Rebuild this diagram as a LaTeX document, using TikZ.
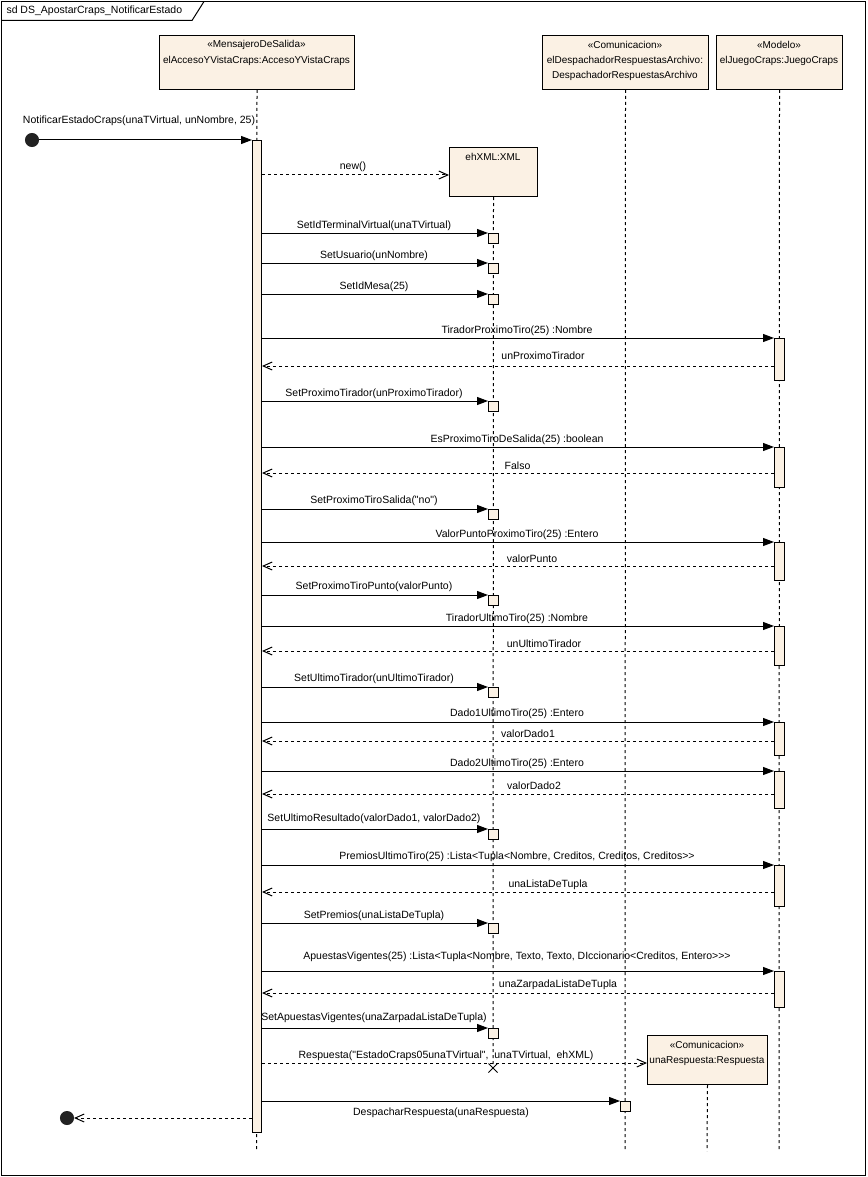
\documentclass[tikz,border=0pt]{standalone}
\usepackage{fontspec}
\setmainfont{Liberation Sans}[Ligatures=TeXOff]
\usetikzlibrary{arrows.meta}
\definecolor{boxfill}{RGB}{251,241,228}
\definecolor{dotcol}{RGB}{34,34,34}
\newcommand{\setcall}[4]{%
  \node[exec, anchor=north west] (#1) at (488,#2) {};
  \draw[sync] (Aact.east |- #1.north west) -- (#1.north west);
  \node[lbl] (#1l) at (374,#4) {#3};
}
\newcommand{\query}[9]{%
  \node[exec, anchor=north west, minimum height={#3-#2}] (#1) at (774,#2) {};
  \coordinate (#1r) at (774,#4);
  \draw[sync] (Aact.east |- #1.north west) -- (#1.north west);
  \draw[ret] (#1r) -- (Aact.east |- #1r);
  \node[lbl] (#1c) at (517,#6) {#5};
  \node[lbl] (#1t) at (#8,#9) {#7};
}
\begin{document}
\begin{tikzpicture}[x=1pt,y=-1pt,line width=1pt,font=\fontsize{10.5}{12.6}\selectfont,
  head/.style={draw,fill=boxfill,inner sep=0pt,anchor=north west},
  htxt/.style={inner sep=0pt,font=\fontsize{10}{12}\selectfont},
  exec/.style={draw,fill=boxfill,inner sep=0pt,minimum width=10pt,minimum height=10pt},
  lbl/.style={inner sep=0pt},
  life/.style={dash pattern=on 3pt off 3pt},
  sync/.style={-{Triangle[length=11pt,width=8pt]}},
  ret/.style={dash pattern=on 3pt off 3pt,-{Straight Barb[length=9pt,width=8pt]}},
  dot/.style={circle,fill=dotcol,draw=dotcol,minimum size=13pt,inner sep=0pt}]
\useasboundingbox (0,0) rectangle (867,1177);
% frame
\draw (1.5,1.5) rectangle (865.5,1175.5);
\draw (1.5,20.5) -- (192,20.5) -- (204,1.5);
\node[lbl,anchor=west] (title) at (6,11) {sd DS\_ApostarCraps\_NotificarEstado};
% heads
\node[head,minimum width=195pt,minimum height=54pt] (Ahead) at (159,35) {};
\node[htxt] (Ast) at (256.5,44.5) {«MensajeroDeSalida»};
\node[htxt] (Anm) at (256.5,61) {elAccesoYVistaCraps:AccesoYVistaCraps};
\node[head,minimum width=166pt,minimum height=54pt] (Dhead) at (542,35) {};
\node[htxt] (Dst) at (625,44.5) {«Comunicacion»};
\node[htxt] (Dnm1) at (625,60.5) {elDespachadorRespuestasArchivo:};
\node[htxt] (Dnm2) at (625,75.5) {DespachadorRespuestasArchivo};
\node[head,minimum width=126pt,minimum height=54pt] (Mhead) at (716,35) {};
\node[htxt] (Mst) at (779,44.5) {«Modelo»};
\node[htxt] (Mnm) at (779,61) {elJuegoCraps:JuegoCraps};
\node[head,minimum width=88pt,minimum height=49pt] (Xhead) at (449,147) {};
\node[htxt] (Xnm) at (493,157) {ehXML:XML};
\node[head,minimum width=120pt,minimum height=49pt] (Rhead) at (647,1035) {};
\node[htxt] (Rst) at (707,1045) {«Comunicacion»};
\node[htxt] (Rnm) at (707,1061) {unaRespuesta:Respuesta};
% lifelines
\coordinate (Aend) at (256.5,1150);
\coordinate (Dend) at (625,1150);
\coordinate (Mend) at (779,1150);
\coordinate (Rend) at (707,1151);
\coordinate (xdel) at (493,1068);
\draw[life] (Ahead.south) -- (Aend);
\draw[life] (Dhead.south) -- (Dend);
\draw[life] (Mhead.south) -- (Mend);
\draw[life] (Rhead.south) -- (Rend);
\draw[life] (Xhead.south) -- (xdel);
\draw (xdel) ++(-4.5,-4.5) -- ++(9,9) (xdel) ++(-4.5,4.5) -- ++(9,-9);
% activation of A
\node[exec,anchor=north west,minimum width=9pt,minimum height=992pt] (Aact) at (252,140) {};
% found message
\node[dot] (start) at (32,140) {};
\draw[sync] (start) -- (Aact.north west);
\node[lbl,anchor=west] (startl) at (22.5,120.5) {NotificarEstadoCraps(unaTVirtual, unNombre, 25)};
% new()
\coordinate (newpt) at (449,175);
\draw[ret] (Aact.east |- newpt) -- (newpt);
\node[lbl] (newl) at (353,167) {new()};
% set calls
\setcall{s1}{233}{SetIdTerminalVirtual(unaTVirtual)}{226}
\setcall{s2}{263}{SetUsuario(unNombre)}{256}
\setcall{s3}{294}{SetIdMesa(25)}{287}
\setcall{s4}{401}{SetProximoTirador(unProximoTirador)}{394}
\setcall{s5}{509}{SetProximoTiroSalida("no")}{501}
\setcall{s6}{595}{SetProximoTiroPunto(valorPunto)}{587}
\setcall{s7}{687}{SetUltimoTirador(unUltimoTirador)}{679}
\setcall{s8}{829}{SetUltimoResultado(valorDado1, valorDado2)}{819}
\setcall{s9}{923}{SetPremios(unaListaDeTupla)}{916}
\setcall{s10}{1028}{SetApuestasVigentes(unaZarpadaListaDeTupla)}{1018}
% queries to Modelo
\query{q1}{338}{380}{366}{TiradorProximoTiro(25) :Nombre}{331}{unProximoTirador}{543}{356}
\query{q2}{447}{487}{473}{EsProximoTiroDeSalida(25) :boolean}{440}{Falso}{517.5}{466}
\query{q3}{542}{580}{566}{ValorPuntoProximoTiro(25) :Entero}{535}{valorPunto}{532}{559}
\query{q4}{626}{665}{651}{TiradorUltimoTiro(25) :Nombre}{619}{unUltimoTirador}{544}{644}
\query{q5}{722}{755}{741}{Dado1UltimoTiro(25) :Entero}{714}{valorDado1}{528}{734}
\query{q6}{771}{808}{794}{Dado2UltimoTiro(25) :Entero}{764}{valorDado2}{534}{786}
\query{q7}{865}{906}{892}{PremiosUltimoTiro(25) :Lista<Tupla<Nombre, Creditos, Creditos, Creditos>>}{857}{unaListaDeTupla}{548}{885}
\query{q8}{971}{1007}{993}{ApuestasVigentes(25) :Lista<Tupla<Nombre, Texto, Texto, DIccionario<Creditos, Entero>>>}{957}{unaZarpadaListaDeTupla}{558}{985}
% Respuesta creation
\coordinate (rpt) at (647,1063);
\draw[ret] (Aact.east |- rpt) -- (rpt);
\node[lbl] (rptl) at (446,1056) {Respuesta("EstadoCraps05unaTVirtual",\ \ unaTVirtual,\ \ ehXML)};
% DespacharRespuesta
\node[exec,anchor=north west] (desp) at (620,1101) {};
\draw[sync] (Aact.east |- desp.north west) -- (desp.north west);
\node[lbl] (despl) at (441,1113) {DespacharRespuesta(unaRespuesta)};
% return to lost end
\node[dot] (fin) at (67,1118) {};
\draw[ret] (Aact.west |- fin) -- (fin);
\end{tikzpicture}
\end{document}
